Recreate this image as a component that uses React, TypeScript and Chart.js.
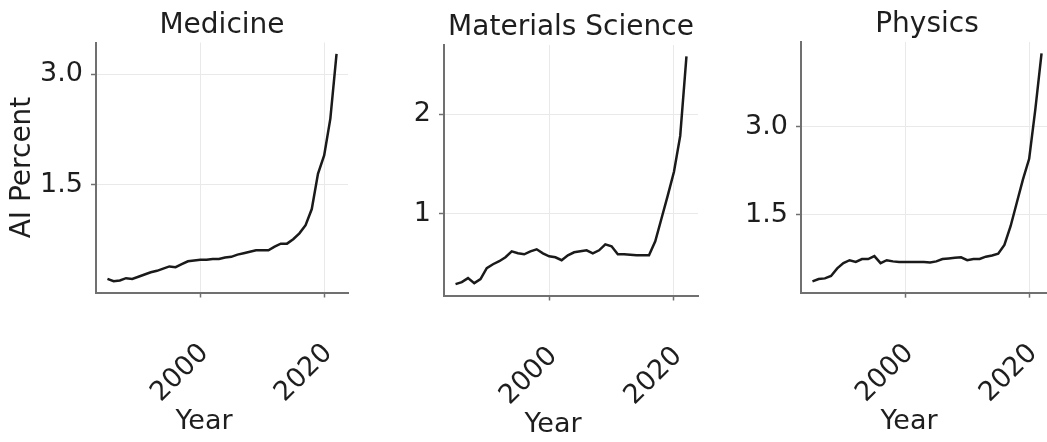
import React, { useEffect, useRef } from 'react';
import { Chart, registerables } from 'chart.js';

Chart.register(...registerables);

// ---------------- data ----------------
const YEARS = [
  1985, 1986, 1987, 1988, 1989, 1990, 1991, 1992, 1993, 1994,
  1995, 1996, 1997, 1998, 1999, 2000, 2001, 2002, 2003, 2004,
  2005, 2006, 2007, 2008, 2009, 2010, 2011, 2012, 2013, 2014,
  2015, 2016, 2017, 2018, 2019, 2020, 2021, 2022,
];

const MEDICINE = [
  0.22, 0.19, 0.2, 0.23, 0.22, 0.25, 0.28, 0.31, 0.33, 0.36,
  0.39, 0.38, 0.42, 0.46, 0.47, 0.48, 0.48, 0.49, 0.49, 0.51,
  0.52, 0.55, 0.57, 0.59, 0.61, 0.61, 0.61, 0.66, 0.7, 0.7,
  0.76, 0.84, 0.95, 1.17, 1.65, 1.9, 2.4, 3.28,
];

const MATERIALS = [
  0.29, 0.31, 0.35, 0.3, 0.34, 0.45, 0.49, 0.52, 0.56, 0.62,
  0.6, 0.59, 0.62, 0.64, 0.6, 0.57, 0.56, 0.53, 0.58, 0.61,
  0.62, 0.63, 0.6, 0.63, 0.69, 0.67, 0.59, 0.59, 0.585, 0.58,
  0.58, 0.58, 0.72, 0.95, 1.18, 1.42, 1.78, 2.58,
];

const PHYSICS = [
  0.36, 0.4, 0.41, 0.45, 0.58, 0.67, 0.72, 0.69, 0.74, 0.74,
  0.79, 0.67, 0.72, 0.7, 0.69, 0.69, 0.69, 0.69, 0.69, 0.68,
  0.7, 0.74, 0.75, 0.76, 0.77, 0.72, 0.74, 0.74, 0.78, 0.8,
  0.83, 0.98, 1.3, 1.7, 2.1, 2.45, 3.3, 4.25,
];

const TITLES = ['Medicine', 'Materials Science', 'Physics'];
const X_TICKS = [2000, 2020];
const X_TICK_LABELS = ['2000', '2020'];
const MED_Y_TICKS = [1.5, 3.0];
const MED_Y_TICK_LABELS = ['1.5', '3.0'];
const MAT_Y_TICKS = [1, 2];
const MAT_Y_TICK_LABELS = ['1', '2'];
const PHY_Y_TICKS = [1.5, 3.0];
const PHY_Y_TICK_LABELS = ['1.5', '3.0'];
const X_TITLE = 'Year';
const Y_TITLE = 'AI Percent';

// ---------------- style / layout ----------------
const FONT = "'DejaVu Sans', sans-serif";
const TITLE_FS = 28;
const TICK_FS = 27;
const XLABEL_FS = 27;
const YLABEL_FS = 28;
const TITLE_LH = TITLE_FS * 1.2;
const YLABEL_LH = YLABEL_FS * 1.2;
const TEXT = '#1e1e1e';
const SPINE = '#707070';
const GRID = '#e9e9e9';
const LINE = '#1a1a1a';
const H = 442;

Chart.defaults.font.family = FONT;
Chart.defaults.font.size = TICK_FS;
Chart.defaults.color = TEXT;

type PanelCfg = {
  title: string;
  values: number[];
  yTicks: number[];
  yTickLabels: string[];
  yTitle: string | null;
  canvasLeft: number;
  canvasWidth: number;
  areaLeft: number;
  areaRight: number;
  areaTop: number;
  areaBottom: number;
  titleCenter: number;
};

const PANELS: PanelCfg[] = [
  {
    title: TITLES[0], values: MEDICINE, yTicks: MED_Y_TICKS, yTickLabels: MED_Y_TICK_LABELS, yTitle: Y_TITLE,
    canvasLeft: 0, canvasWidth: 360, areaLeft: 96, areaRight: 348, areaTop: 42.5, areaBottom: 292.5, titleCenter: 25.5,
  },
  {
    title: TITLES[1], values: MATERIALS, yTicks: MAT_Y_TICKS, yTickLabels: MAT_Y_TICK_LABELS, yTitle: null,
    canvasLeft: 360, canvasWidth: 345, areaLeft: 444, areaRight: 698, areaTop: 45, areaBottom: 295.5, titleCenter: 28,
  },
  {
    title: TITLES[2], values: PHYSICS, yTicks: PHY_Y_TICKS, yTickLabels: PHY_Y_TICK_LABELS, yTitle: null,
    canvasLeft: 705, canvasWidth: 350, areaLeft: 801, areaRight: 1053, areaTop: 42, areaBottom: 292.7, titleCenter: 25,
  },
];

const xTitlePlugin = {
  id: 'xTitle',
  afterDraw(chart: any, _args: any, opts: any) {
    const { ctx, chartArea } = chart;
    ctx.save();
    ctx.font = `${XLABEL_FS}px ${FONT}`;
    ctx.fillStyle = TEXT;
    ctx.textAlign = 'center';
    ctx.textBaseline = 'alphabetic';
    ctx.fillText(opts.text, (chartArea.left + chartArea.right) / 2 + opts.dx, chartArea.bottom + opts.dy);
    ctx.restore();
  },
};

function Panel({ cfg }: { cfg: PanelCfg }) {
  const ref = useRef<HTMLCanvasElement | null>(null);

  useEffect(() => {
    const canvas = ref.current;
    if (!canvas) return;
    const x0 = YEARS[0];
    const x1 = YEARS[YEARS.length - 1];
    const xm = (x1 - x0) * 0.05;
    const y0 = Math.min(...cfg.values);
    const y1 = Math.max(...cfg.values);
    const ym = (y1 - y0) * 0.05;

    const yAxisWidth = cfg.areaLeft - cfg.canvasLeft;
    const padRight = cfg.canvasLeft + cfg.canvasWidth - cfg.areaRight;
    const titlePadTop = cfg.titleCenter - TITLE_LH / 2;
    const titlePadBottom = Math.max(0, cfg.areaTop - titlePadTop - TITLE_LH);
    const xAxisHeight = H - cfg.areaBottom;

    const chart = new Chart(canvas, {
      type: 'line',
      data: {
        datasets: [
          {
            data: YEARS.map((yr, i) => ({ x: yr, y: cfg.values[i] })),
            borderColor: LINE,
            borderWidth: 2.5,
            pointRadius: 0,
            tension: 0,
            fill: false,
          },
        ],
      },
      options: {
        responsive: false,
        animation: false,
        devicePixelRatio: 1,
        layout: { padding: { left: 0, right: padRight, top: 0, bottom: 0 } },
        plugins: {
          legend: { display: false },
          tooltip: { enabled: false },
          title: {
            display: true,
            text: cfg.title,
            fullSize: false,
            color: TEXT,
            font: { size: TITLE_FS, weight: 'normal', family: FONT, lineHeight: 1.2 },
            padding: { top: titlePadTop, bottom: titlePadBottom },
          },
          xTitle: { text: X_TITLE, dx: -18, dy: 136.5 },
        } as any,
        scales: {
          x: {
            type: 'linear',
            min: x0 - xm,
            max: x1 + xm,
            afterBuildTicks: (s: any) => {
              s.ticks = X_TICKS.map((v) => ({ value: v }));
            },
            afterFit: (s: any) => {
              s.height = xAxisHeight;
              s.paddingLeft = 0;
              s.paddingRight = 0;
              s.paddingTop = 0;
              s.paddingBottom = 0;
            },
            ticks: {
              autoSkip: false,
              minRotation: 45,
              maxRotation: 45,
              padding: 40,
              labelOffset: 4,
              color: TEXT,
              font: { size: TICK_FS, family: FONT },
              callback: (_v: any, i: number) => X_TICK_LABELS[i],
            },
            grid: { color: GRID, lineWidth: 1, tickLength: 5, tickColor: SPINE, tickWidth: 1.5 },
            border: { color: SPINE, width: 2 },
          },
          y: {
            type: 'linear',
            min: y0 - ym,
            max: y1 + ym,
            afterBuildTicks: (s: any) => {
              s.ticks = cfg.yTicks.map((v) => ({ value: v }));
            },
            afterFit: (s: any) => {
              s.width = yAxisWidth;
              s.paddingLeft = 0;
              s.paddingRight = 0;
              s.paddingTop = 0;
              s.paddingBottom = 0;
            },
            ticks: {
              padding: 8,
              color: TEXT,
              font: { size: TICK_FS, family: FONT },
              callback: (_v: any, i: number) => cfg.yTickLabels[i],
            },
            title: cfg.yTitle
              ? {
                  display: true,
                  text: cfg.yTitle,
                  color: TEXT,
                  font: { size: YLABEL_FS, family: FONT, lineHeight: 1.2 },
                  padding: { top: 22.5 - YLABEL_LH / 2, bottom: 0 },
                }
              : { display: false },
            grid: { color: GRID, lineWidth: 1, tickLength: 5, tickColor: SPINE, tickWidth: 1.5 },
            border: { color: SPINE, width: 2 },
          },
        },
      } as any,
      plugins: [xTitlePlugin],
    });
    return () => chart.destroy();
  }, [cfg]);

  return (
    <canvas
      ref={ref}
      width={cfg.canvasWidth}
      height={H}
      style={{
        position: 'absolute',
        left: cfg.canvasLeft + 'px',
        top: '0px',
        width: cfg.canvasWidth + 'px',
        height: H + 'px',
      }}
    />
  );
}

export default function App() {
  return (
    <div
      style={{
        position: 'absolute',
        left: 0,
        top: 0,
        width: '1047px',
        height: H + 'px',
        overflow: 'hidden',
        background: '#ffffff',
      }}
    >
      {PANELS.map((p) => (
        <Panel key={p.title} cfg={p} />
      ))}
    </div>
  );
}
